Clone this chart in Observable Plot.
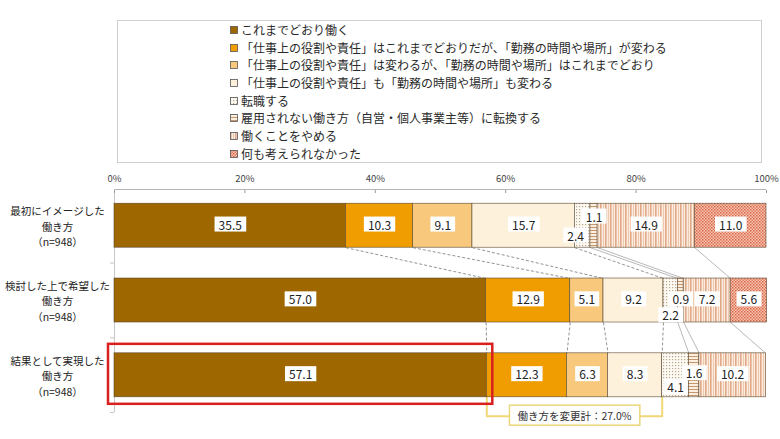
<!DOCTYPE html>
<html>
<head>
<meta charset="utf-8">
<script src="https://cdn.jsdelivr.net/npm/d3@7"></script>
<script src="https://cdn.jsdelivr.net/npm/@observablehq/plot@0.6"></script>
<style>
  html, body { margin: 0; padding: 0; background: #fff; }
  body { width: 780px; height: 439px; position: relative; overflow: hidden; font-family: "Noto Sans CJK JP", "Noto Sans", sans-serif; }
  #legend { position: absolute; left: 117px; top: 20px; width: 645px; height: 143px; border: 1px solid #cfcfcf; box-sizing: border-box; padding: 0 0 0 112px; }
  #legend .row { height: 17.7px; line-height: 17.7px; font-size: 12px; color: #2a2a2a; white-space: nowrap; display: flex; align-items: center; }
  #legend .row svg { margin-right: 3px; flex: none; }
  #chart { position: absolute; left: 0; top: 164px; }
</style>
</head>
<body>
<svg width="0" height="0" style="position:absolute">
  <defs>
    <pattern id="p4" width="3" height="3" patternUnits="userSpaceOnUse">
      <rect width="3" height="3" fill="#fdfaf4"/><rect width="1.2" height="1.2" fill="#b9a78c"/>
    </pattern>
    <pattern id="p5" width="3" height="3" patternUnits="userSpaceOnUse">
      <rect width="3" height="3" fill="#fcefe0"/><rect width="3" height="1" fill="#c4976e"/>
    </pattern>
    <pattern id="p6" width="5" height="5" patternUnits="userSpaceOnUse">
      <rect width="5" height="5" fill="#fcece0"/><rect x="0" width="1.6" height="5" fill="#e0aa88"/><rect x="3" width="1" height="5" fill="#eec8ac"/>
    </pattern>
    <pattern id="p7" width="3" height="3" patternUnits="userSpaceOnUse">
      <rect width="3" height="3" fill="#f6c6b0"/><rect width="1.5" height="1.5" fill="#d9644a"/><rect x="1.5" y="1.5" width="1.5" height="1.5" fill="#e07a60"/>
    </pattern>
  </defs>
</svg>
<div id="legend"></div>
<div id="chart"></div>
<script>
// ---- data ----
const categories = [
  "これまでどおり働く",
  "「仕事上の役割や責任」はこれまでどおりだが、「勤務の時間や場所」が変わる",
  "「仕事上の役割や責任」は変わるが、「勤務の時間や場所」はこれまでどおり",
  "「仕事上の役割や責任」も「勤務の時間や場所」も変わる",
  "転職する",
  "雇用されない働き方（自営・個人事業主等）に転換する",
  "働くことをやめる",
  "何も考えられなかった"
];
const groupLabels = [
  "最初にイメージした\n働き方\n（n=948）",
  "検討した上で希望した\n働き方\n（n=948）",
  "結果として実現した\n働き方\n（n=948）"
];
const initialValues  = [35.5, 10.3, 9.1, 15.7, 2.4, 1.1, 14.9, 11.0];
const desiredValues  = [57.0, 12.9, 5.1, 9.2, 2.2, 0.9, 7.2, 5.6];
const realizedValues = [57.1, 12.3, 6.3, 8.3, 4.1, 1.6, 10.2, 0];
const xTicks = [0, 20, 40, 60, 80, 100];
const changeTotalLabel = "働き方を変更計：27.0%";

// ---- styles ----
const fills = ["#9e6700", "#ef9d00", "#f8c87c", "#fef1dc", "url(#p4)", "url(#p5)", "url(#p6)", "url(#p7)"];
const font = "Noto Sans CJK JP";

// ---- legend ----
const legend = d3.select("#legend");
categories.forEach((c, i) => {
  const row = legend.append("div").attr("class", "row");
  const s = row.append("svg").attr("width", 8).attr("height", 8);
  s.append("rect").attr("x", 0.5).attr("y", 0.5).attr("width", 7).attr("height", 7)
    .attr("fill", fills[i]).attr("stroke", "#555").attr("stroke-width", 0.8);
  row.append("span").text(c);
});

// ---- derived rows ----
const seriesValues = [initialValues, desiredValues, realizedValues];
const rows = [];
const cum = [];
seriesValues.forEach((vals, g) => {
  let c = 0; const b = [];
  vals.forEach((v, ci) => {
    const x2 = Math.round((c + v) * 10) / 10;
    rows.push({g, ci, cat: categories[ci], value: v, x1: c, x2});
    c = x2; b.push(x2);
  });
  cum.push(b);
});
const H = 0.294;         // half bar height in y units
const yTop = -0.484, yBottom = 2.497;
const links = [];
for (let g = 0; g < 2; g++) {
  for (let k = 0; k < 7; k++) {
    links.push({xa: cum[g][k], xb: cum[g + 1][k], ya: g + H, yb: g + 1 - H, dashed: k < 4});
  }
}
const changeStart = cum[2][0];
const changeEnd = cum[2][3];
const drop = 0.254;
const bracket = [
  {x: changeStart, y: 2 + H}, {x: changeStart, y: 2 + H + drop},
  {x: changeEnd, y: 2 + H + drop}, {x: changeEnd, y: 2 + H}
];

const mainLabels = rows.filter(d => d.value > 0 && d.ci !== 4 && d.ci !== 5);
// small-label offsets [dx, dy] keyed by group-category
const smallOffsets = {"0-4": [-7, 11], "0-5": [0, -8], "1-4": [0, 16], "1-5": [0, 0], "2-4": [0, 13], "2-5": [0, -1]};
const smallMarks = rows.filter(d => d.value > 0 && (d.ci === 4 || d.ci === 5)).map(d => {
  const [dx, dy] = smallOffsets[d.g + "-" + d.ci] || [0, 0];
  return Plot.text([d], {x: r => (r.x1 + r.x2) / 2, y: "g", text: r => r.value.toFixed(1), dx, dy,
    fontSize: 12, fill: "#222", ariaDescription: "vlabel"});
});

const chart = Plot.plot({
  width: 780, height: 275,
  marginTop: 25, marginLeft: 114, marginRight: 14, marginBottom: 27,
  style: {fontFamily: font, background: "transparent", overflow: "visible"},
  x: {domain: [0, 100], axis: null},
  y: {domain: [yBottom, yTop], axis: null},
  color: {type: "ordinal", domain: categories, range: fills},
  marks: [
    Plot.ruleY([yTop], {x1: 0, x2: 100, stroke: "#b5b5b5", strokeWidth: 1}),
    Plot.ruleX([0], {stroke: "#c8c8c8", strokeWidth: 1}),
    Plot.ruleY([0.5, 1.5, yBottom], {x1: 0, x2: 0, insetLeft: -4, stroke: "#c8c8c8"}),
    Plot.axisX(xTicks, {anchor: "top", tickSize: 0, tickPadding: 8, tickFormat: d => d + "%", fontSize: 9.5, fill: "#444"}),
    Plot.axisX(xTicks, {anchor: "top", tickSize: 3, dy: 3, tickFormat: () => "", stroke: "#999"}),
    Plot.line(bracket, {x: "x", y: "y", stroke: "#f1d877", strokeWidth: 2, strokeLinejoin: "round"}),
    Plot.link(links.filter(d => d.dashed), {x1: "xa", y1: "ya", x2: "xb", y2: "yb", stroke: "#777", strokeWidth: 0.8, strokeDasharray: "3,2"}),
    Plot.link(links.filter(d => !d.dashed), {x1: "xa", y1: "ya", x2: "xb", y2: "yb", stroke: "#9a9a9a", strokeWidth: 0.7}),
    Plot.rect(rows.filter(d => d.value > 0), {x1: "x1", x2: "x2", y1: d => d.g - H, y2: d => d.g + H, fill: "cat", stroke: "#5b4a33", strokeWidth: 0.6}),
    Plot.text(groupLabels, {x: 0, y: (d, i) => i, text: d => d, dx: -57, textAnchor: "middle", lineHeight: 1.47, fontSize: 10.5, fill: "#222"}),
    Plot.rect([{x1: 0, x2: realizedValues[0], y1: 2 - H, y2: 2 + H}], {x1: "x1", x2: "x2", y1: "y1", y2: "y2", fill: "none", stroke: "#d9201e", strokeWidth: 2.5, insetLeft: -6, insetRight: -6, insetTop: -9, insetBottom: -7}),
    Plot.text(mainLabels, {x: d => (d.x1 + d.x2) / 2, y: "g", text: d => d.value.toFixed(1), fontSize: 12, fill: "#222", ariaDescription: "vlabel"}),
    ...smallMarks,
    Plot.text([changeTotalLabel], {x: (changeStart + changeEnd) / 2, y: 2 + H + drop, text: d => d, fontSize: 10.5, fill: "#333", ariaDescription: "blabel"})
  ]
});
document.getElementById("chart").append(chart);

// white boxes behind value labels
function boxify(label, padX, h, fill, stroke, sw) {
  d3.select(chart).selectAll(`g[aria-description="${label}"] text`).each(function () {
    const b = this.getBBox();
    const cy = b.y + b.height / 2;
    const r = document.createElementNS("http://www.w3.org/2000/svg", "rect");
    r.setAttribute("x", b.x - padX);
    r.setAttribute("y", cy - h / 2);
    r.setAttribute("width", b.width + 2 * padX);
    r.setAttribute("height", h);
    r.setAttribute("fill", fill);
    if (stroke) { r.setAttribute("stroke", stroke); r.setAttribute("stroke-width", sw); }
    const t = this.getAttribute("transform");
    if (t) r.setAttribute("transform", t);
    this.parentNode.insertBefore(r, this);
  });
}
boxify("vlabel", 4, 15, "#fff");
boxify("blabel", 8, 20, "#fff", "#ecd67a", 1.5);
</script>
</body>
</html>
